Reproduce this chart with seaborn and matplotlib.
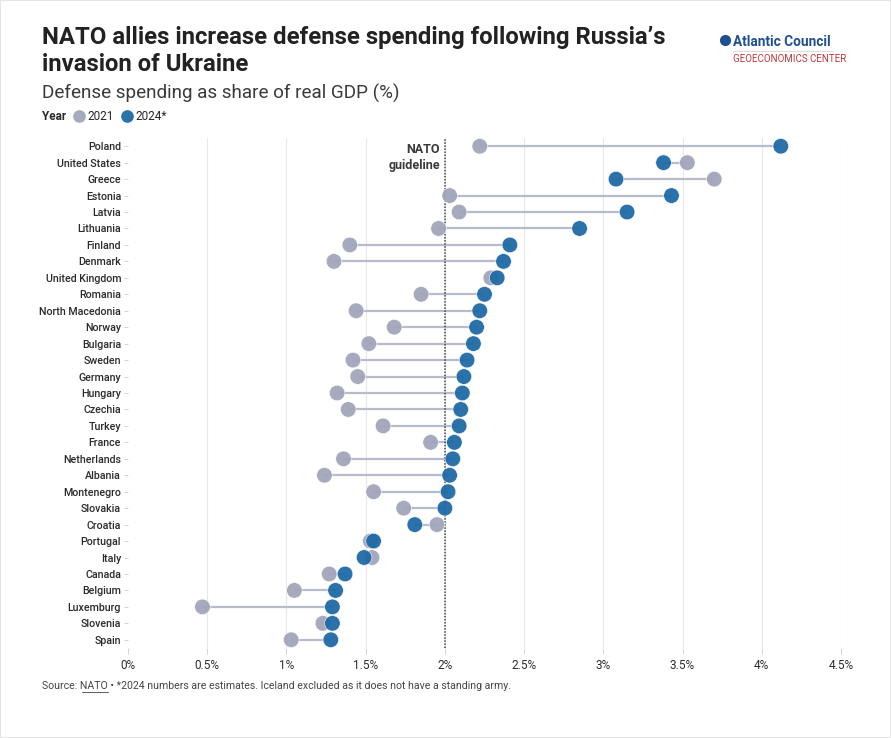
import pandas as pd
import seaborn as sns
import matplotlib.pyplot as plt
from matplotlib.lines import Line2D

countries = ['Poland', 'United States', 'Greece', 'Estonia', 'Latvia', 'Lithuania',
             'Finland', 'Denmark', 'United Kingdom', 'Romania', 'North Macedonia',
             'Norway', 'Bulgaria', 'Sweden', 'Germany', 'Hungary', 'Czechia', 'Turkey',
             'France', 'Netherlands', 'Albania', 'Montenegro', 'Slovakia', 'Croatia',
             'Portugal', 'Italy', 'Canada', 'Belgium', 'Luxemburg', 'Slovenia', 'Spain']
spend_2021 = [2.22, 3.53, 3.70, 2.03, 2.09, 1.96, 1.40, 1.30, 2.29, 1.85, 1.44,
              1.68, 1.52, 1.42, 1.45, 1.32, 1.39, 1.61, 1.91, 1.36, 1.24, 1.55,
              1.74, 1.95, 1.53, 1.54, 1.27, 1.05, 0.47, 1.23, 1.03]
spend_2024 = [4.12, 3.38, 3.08, 3.43, 3.15, 2.85, 2.41, 2.37, 2.33, 2.25, 2.22,
              2.20, 2.18, 2.14, 2.12, 2.11, 2.10, 2.09, 2.06, 2.05, 2.03, 2.02,
              2.00, 1.81, 1.55, 1.49, 1.37, 1.31, 1.29, 1.29, 1.28]
years = ['2021', '2024*']
nato_guideline = 2.0
x_ticks = [0, 0.5, 1, 1.5, 2, 2.5, 3, 3.5, 4, 4.5]

grey = '#a2a5ba'
blue = '#1f69a6'
line_col = '#b8bbcc'
text_col = '#2b2b2b'

df = pd.DataFrame({
    'country': countries * 2,
    'spend': spend_2021 + spend_2024,
    'year': [years[0]] * len(countries) + [years[1]] * len(countries),
})

sns.set_theme(style='white')
plt.rcParams['font.family'] = ['Roboto', 'DejaVu Sans']

fig = plt.figure(figsize=(8.91, 7.38), dpi=100)
fig.patch.set_edgecolor('#e4e4e4')
fig.patch.set_linewidth(1.2)
ax = fig.add_axes([128 / 891, 1 - 648 / 738, (841 - 128) / 891, (648 - 138) / 738])

# light vertical grid
for x in x_ticks[1:]:
    ax.axvline(x, color='#e8e8ec', lw=0.8, zorder=0)

# dumbbell bars + guideline
ax.hlines(countries, spend_2021, spend_2024, color=line_col, lw=1.6, zorder=1)
ax.axvline(nato_guideline, color='#444444', lw=1.1, ls=(0, (1, 1)), zorder=1.5)

sns.scatterplot(data=df, x='spend', y='country', hue='year',
                palette={years[0]: grey, years[1]: blue}, s=125,
                edgecolor='white', linewidth=0.4, alpha=0.95, ax=ax, zorder=3,
                legend=True)
handles, labels = ax.get_legend_handles_labels()
ax.get_legend().remove()

ax.set_xlim(0, 4.5)
ax.set_ylim(len(countries) - 0.5, -0.5)
ax.set_xticks(x_ticks)
ax.set_xticklabels([f'{t:g}%' for t in x_ticks], fontsize=8.5, color=text_col)
ax.tick_params(axis='y', labelsize=7.7, colors='#cccccc', labelcolor=text_col,
               length=3, width=0.6, pad=2, left=True)
ax.tick_params(axis='x', colors='#cccccc', labelcolor=text_col, length=4,
               width=0.6, pad=4, bottom=True)
for lab in ax.get_yticklabels():
    lab.set_fontweight('medium')
ax.set_xlabel('')
ax.set_ylabel('')
for s in ax.spines.values():
    s.set_visible(False)

ax.text(nato_guideline - 0.03, -0.22, 'NATO\nguideline', ha='right', va='top',
        fontsize=9, fontweight='bold', color='#3a3a3a', linespacing=1.3)

# header
fig.text(42 / 891, 1 - 51 / 738, 'NATO allies increase defense spending following Russia\u2019s\ninvasion of Ukraine',
         fontsize=17.2, fontweight='bold', color='#222222', va='center', linespacing=1.2)
fig.text(42 / 891, 1 - 93 / 738, 'Defense spending as share of real GDP (%)',
         fontsize=13.6, fontweight='normal', color='#3a3a3a', va='center')
fig.text(42 / 891, 1 - 117 / 738, 'Year', fontsize=8.5, fontweight='bold',
         color=text_col, va='center')
fig.legend(handles, labels, ncol=2, loc='center left', frameon=False,
           bbox_to_anchor=(72 / 891, 1 - 117 / 738), fontsize=8.5,
           handletextpad=0.1, columnspacing=0.5, markerscale=0.85,
           borderaxespad=0, borderpad=0, handlelength=1.2)

# footer
fig.text(42 / 891, 1 - 686 / 738,
         'Source: NATO \u2022 *2024 numbers are estimates. Iceland excluded as it does not have a standing army.',
         fontsize=7.6, color='#444444', va='center')
fig.add_artist(Line2D([82 / 891, 108 / 891], [1 - 692 / 738] * 2, color='#444444', lw=0.6,
                      transform=fig.transFigure))

# logo
fig.add_artist(Line2D([725 / 891], [1 - 40 / 738], marker='o', markersize=7,
                      color='#1d4f91', transform=fig.transFigure))
fig.text(733 / 891, 1 - 42 / 738, 'Atlantic Council', fontsize=9.8, fontweight='bold',
         color='#1d4f91', va='center')
fig.add_artist(Line2D([733 / 891, 833 / 891], [1 - 51 / 738] * 2, color='#dddddd', lw=0.8,
                      transform=fig.transFigure))
fig.text(733 / 891, 1 - 59 / 738, 'GEOECONOMICS CENTER', fontsize=7, color='#c0393b',
         va='center')

fig.savefig('out.png', dpi=100)
